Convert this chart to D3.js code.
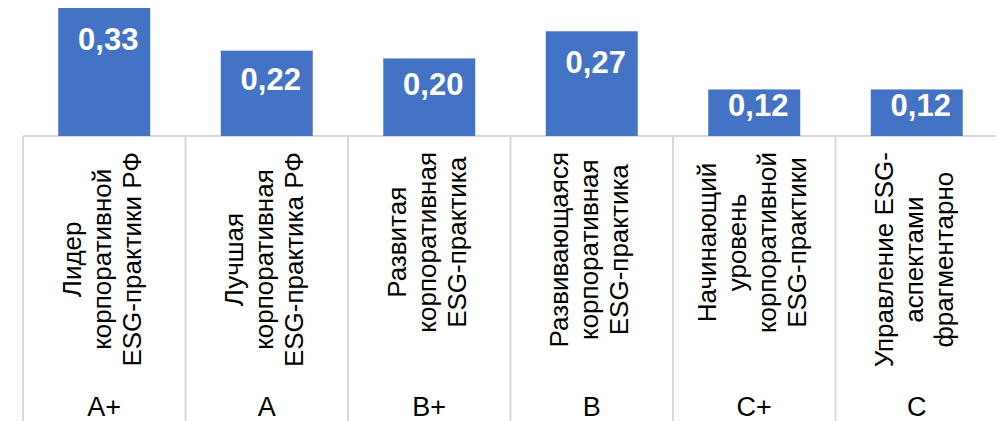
<!DOCTYPE html>
<html>
<head>
<meta charset="utf-8">
<script src="https://cdn.jsdelivr.net/npm/d3@7"></script>
<style>
  body { margin: 0; background: #fff; }
  svg { display: block; }
</style>
</head>
<body>
<div id="chart"></div>
<script>
// data
const grades = ["A+", "A", "B+", "B", "C+", "C"];
const categoryLines = [
  ["Лидер", "корпоративной", "ESG-практики РФ"],
  ["Лучшая", "корпоративная", "ESG-практика РФ"],
  ["Развитая", "корпоративная", "ESG-практика"],
  ["Развивающаяся", "корпоративная", "ESG-практика"],
  ["Начинающий", "уровень", "корпоративной", "ESG-практики"],
  ["Управление ESG-", "аспектами", "фрагментарно"]
];
const values = [0.33, 0.22, 0.20, 0.27, 0.12, 0.12];

const width = 996, height = 421;
const baseY = 136, topY = 8;
const gridColor = "#d9d9d9";
const barColor = "#4472c4";
const fontFam = "'Liberation Sans', Arial, sans-serif";

const svg = d3.select("#chart")
  .append("svg")
  .attr("width", width)
  .attr("height", height);

// scales
const x = d3.scaleBand()
  .domain(grades)
  .range([23, 23 + 6 * 162.5])
  .padding(0);

const y = d3.scaleLinear()
  .domain([0, 0.33])
  .range([baseY, topY]);

const bw = x.bandwidth();
const barW = bw * 0.566;

// category grid (table under the axis)
svg.append("line")
  .attr("x1", x.range()[0]).attr("x2", x.range()[1])
  .attr("y1", baseY).attr("y2", baseY)
  .attr("stroke", gridColor).attr("stroke-width", 2);

svg.selectAll(".vline")
  .data(grades.concat(["end"]))
  .enter()
  .append("line")
  .attr("class", "vline")
  .attr("x1", (d, i) => x.range()[0] + i * bw)
  .attr("x2", (d, i) => x.range()[0] + i * bw)
  .attr("y1", baseY)
  .attr("y2", height)
  .attr("stroke", gridColor).attr("stroke-width", 2);

// bars
svg.selectAll(".bar")
  .data(values)
  .enter()
  .append("rect")
  .attr("class", "bar")
  .attr("x", (d, i) => x(grades[i]) + (bw - barW) / 2)
  .attr("y", d => y(d))
  .attr("width", barW)
  .attr("height", d => baseY - y(d))
  .attr("fill", barColor);

// value labels inside the bar end
svg.selectAll(".val")
  .data(values)
  .enter()
  .append("text")
  .attr("class", "val")
  .attr("x", (d, i) => x(grades[i]) + bw / 2 + 4)
  .attr("y", d => y(d) + Math.min(31, (baseY - y(d)) * 0.33))
  .attr("dy", "0.35em")
  .attr("text-anchor", "middle")
  .style("font-family", fontFam)
  .style("font-weight", "bold")
  .style("font-size", "31px")
  .style("fill", "#fff")
  .text(d => d3.format(".2f")(d).replace(".", ","));

// rotated category names, block hangs from just under the axis
const lineH = 30;
const textTop = 152;
const cat = svg.selectAll(".cat")
  .data(categoryLines)
  .enter()
  .append("g")
  .attr("class", "cat");

cat.selectAll("text")
  .data(d => d.map((t, j) => ({ t: t, j: j, n: d.length })))
  .enter()
  .append("text")
  .attr("x", 0)
  .attr("y", d => (d.j - (d.n - 1) / 2) * lineH)
  .attr("dy", "0.25em")
  .attr("text-anchor", "middle")
  .style("font-family", fontFam)
  .style("font-size", "26px")
  .style("fill", "#000")
  .text(d => d.t);

cat.attr("transform", function (d, i) {
  let maxLen = d3.max(d3.select(this).selectAll("text").nodes(), n => n.getComputedTextLength());
  return "translate(" + (x(grades[i]) + bw / 2) + "," + (textTop + maxLen / 2) + ") rotate(-90)";
});

// grade row
svg.selectAll(".grade")
  .data(grades)
  .enter()
  .append("text")
  .attr("class", "grade")
  .attr("x", d => x(d) + bw / 2)
  .attr("y", 416)
  .attr("text-anchor", "middle")
  .style("font-family", fontFam)
  .style("font-size", "27px")
  .style("fill", "#000")
  .text(d => d);
</script>
</body>
</html>
